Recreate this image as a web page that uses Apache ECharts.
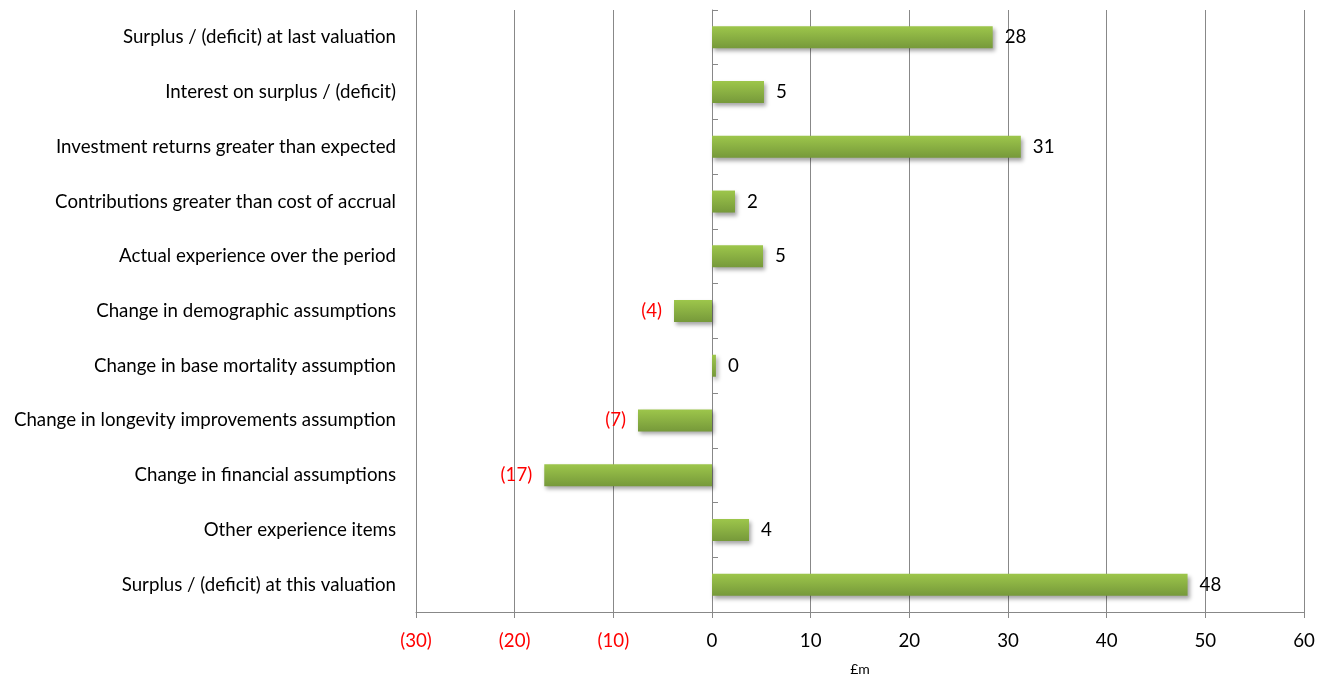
<!DOCTYPE html>
<html>
<head>
<meta charset="utf-8">
<script src="https://cdn.jsdelivr.net/npm/echarts@6/dist/echarts.min.js"></script>
<style>
html,body{margin:0;padding:0;background:#fff;}
#chart{width:1324px;height:675px;}
</style>
</head>
<body>
<div id="chart"></div>
<script>
const categories = [
  "Surplus / (deficit) at last valuation",
  "Interest on surplus / (deficit)",
  "Investment returns greater than expected",
  "Contributions greater than cost of accrual",
  "Actual experience over the period",
  "Change in demographic assumptions",
  "Change in base mortality assumption",
  "Change in longevity improvements assumption",
  "Change in financial assumptions",
  "Other experience items",
  "Surplus / (deficit) at this valuation"
];
const values = [28.45, 5.27, 31.3, 2.33, 5.17, -3.85, 0.4, -7.5, -17.0, 3.75, 48.2];
const valueLabels = [28, 5, 31, 2, 5, -4, 0, -7, -17, 4, 48];
const xTicks = [-30, -20, -10, 0, 10, 20, 30, 40, 50, 60];
const axisName = "£m";

const FONT = "Lato, 'Open Sans', sans-serif";
const FS = 18.7;
const cats = categories.slice().reverse();
const vals = values.slice().reverse();
const labs = valueLabels.slice().reverse();

function fmtNum(v){ return v < 0 ? '{neg|(' + Math.abs(v) + ')}' : '{pos|' + v + '}'; }
const richNum = {neg:{color:'#ff0000', fontFamily:FONT, fontSize:FS}, pos:{color:'#000', fontFamily:FONT, fontSize:FS}};

const chart = echarts.init(document.getElementById('chart'), null, {renderer:'canvas'});
chart.setOption({
  animation:false,
  grid:{left:416, right:20, top:10, bottom:63, containLabel:false, outerBoundsMode:'none'},
  xAxis:{
    type:'value', min:xTicks[0], max:xTicks[xTicks.length-1], interval:10,
    name:axisName, nameLocation:'middle', nameGap:50,
    nameTextStyle:{fontFamily:FONT, fontSize:14, color:'#000'},
    axisLine:{show:true, lineStyle:{color:'#888', width:1}},
    axisTick:{show:true, length:6, lineStyle:{color:'#888'}},
    splitLine:{show:true, lineStyle:{color:'#888', width:1}},
    axisLabel:{
      margin:19, fontFamily:FONT, fontSize:FS,
      formatter:function(v){ return fmtNum(v); },
      rich:richNum
    }
  },
  yAxis:[{
    type:'category', data:cats,
    axisLine:{show:false, onZero:false}, axisTick:{show:false},
    axisLabel:{margin:20, fontFamily:FONT, fontSize:FS, color:'#000'}
  },{
    type:'category', data:cats,
    axisLine:{show:true, onZero:true, lineStyle:{color:'#888', width:1}},
    axisTick:{show:true, length:6, lineStyle:{color:'#888'}},
    axisLabel:{show:false}
  }],
  series:[{
    type:'bar', yAxisIndex:0, barWidth:22,
    data:vals.map(function(v){ return v < 0 ? {value:v, label:{position:'left'}} : v; }),
    itemStyle:{
      color:new echarts.graphic.LinearGradient(0,0,0,1,[
        {offset:0, color:'#9dc64b'},
        {offset:1, color:'#76993a'}
      ]),
      shadowColor:'rgba(0,0,0,0.35)', shadowBlur:4, shadowOffsetX:2, shadowOffsetY:3
    },
    label:{
      show:true, distance:12, fontFamily:FONT, fontSize:FS,
      position:'right',
      formatter:function(p){ return fmtNum(labs[p.dataIndex]); },
      rich:richNum
    }
  }]
});
</script>
</body>
</html>
